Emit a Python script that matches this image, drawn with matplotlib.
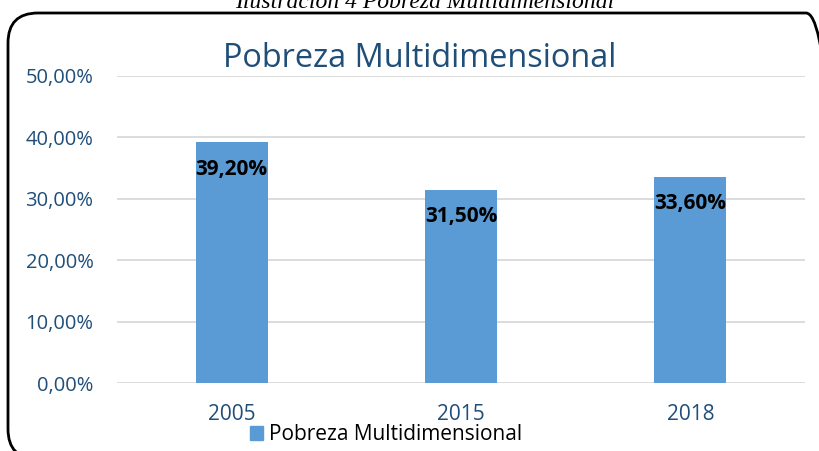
import matplotlib
matplotlib.use("Agg")
import matplotlib.pyplot as plt
from matplotlib.patches import FancyBboxPatch
from matplotlib.ticker import FuncFormatter

years = ["2005", "2015", "2018"]
values = [39.2, 31.5, 33.6]
value_labels = ["39,20%", "31,50%", "33,60%"]
yticks = [0, 10, 20, 30, 40, 50]

BLUE = "#5B9BD5"
DARK = "#1F4E79"
GRID = "#D9D9D9"

plt.rcParams["font.family"] = ["Open Sans", "DejaVu Sans"]

fig = plt.figure(figsize=(8.2, 4.51), dpi=100)

# overlay in pixel units for the rounded chart border (clipped to the figure)
frame = fig.add_axes([0, 0, 1, 1], zorder=-1)
frame.set_xlim(0, 820)
frame.set_ylim(0, 451)
frame.axis("off")
frame.add_patch(FancyBboxPatch((8, 451 - 459), 828, 446, boxstyle="round,pad=0,rounding_size=30",
                               fill=False, edgecolor="black", linewidth=2, clip_on=True))

ax = fig.add_axes([117 / 820, 1 - 383 / 451, 688 / 820, 307 / 451])
ax.patch.set_alpha(0)

x = list(range(len(years)))
ax.bar(x, values, width=0.315, color=BLUE, zorder=2)
ax.set_xlim(-0.5, len(years) - 0.5)
ax.set_ylim(0, 50)
ax.set_yticks(yticks)
ax.yaxis.set_major_formatter(FuncFormatter(lambda v, p: f"{v:.2f}%".replace(".", ",")))
ax.set_xticks(x)
ax.set_xticklabels(years)
ax.tick_params(axis="both", length=0, labelcolor=DARK)
ax.tick_params(axis="y", pad=17, labelsize=14.5)
ax.tick_params(axis="x", pad=15, labelsize=15)
ax.grid(axis="y", color=GRID, linewidth=1.3, zorder=0)
for s in ax.spines.values():
    s.set_visible(False)

for xi, v, lab in zip(x, values, value_labels):
    ax.annotate(lab, (xi, v), xytext=(0, -27), textcoords="offset pixels",
                ha="center", va="center", fontsize=15, fontweight="bold", color="black", zorder=3)

fig.text(420 / 820, 1 - 67 / 451, "Pobreza Multidimensional", ha="center", va="baseline",
         fontsize=23.4, color=DARK)

fig.text(425 / 820, 1 - 8 / 451, "Ilustración 4 Pobreza Multidimensional", ha="center",
         va="baseline", fontsize=17, style="italic", family=["Liberation Serif", "DejaVu Serif"])

fig.legend(handles=[plt.Rectangle((0, 0), 1, 1, color=BLUE)], labels=["Pobreza Multidimensional"],
           loc="center", bbox_to_anchor=(386 / 820, 1 - 435 / 451), frameon=False, fontsize=15,
           handlelength=0.65, handleheight=0.65, handletextpad=0.3, borderpad=0)

fig.savefig("out.png", dpi=100)
